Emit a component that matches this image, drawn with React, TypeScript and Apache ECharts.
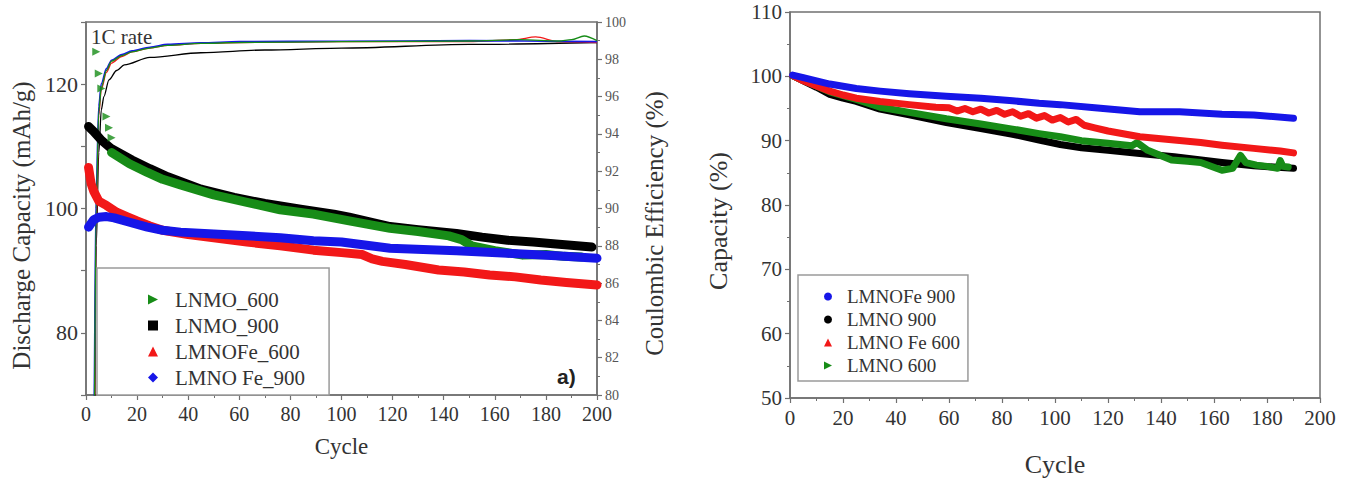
import React, { useEffect, useRef } from "react";
import * as echarts from "echarts";

// ---------- Left chart (a): discharge capacity vs cycle ----------
const cycleTicks = [0, 20, 40, 60, 80, 100, 120, 140, 160, 180, 200];
const capLabelValues = [80, 100, 120];

const lnmo900Cycles = [1, 3, 6, 10, 18, 25, 32, 45, 58, 70, 84, 97, 103, 119, 130, 145, 155, 165, 175, 184, 198];
const lnmo900Cap = [113.2, 112.4, 111.0, 109.6, 107.8, 106.4, 105.1, 103.1, 101.8, 100.8, 99.9, 99.1, 98.6, 97.1, 96.6, 96.0, 95.4, 94.9, 94.6, 94.3, 93.8];

const lnmo600Cycles = [10, 17, 24, 30, 37, 50, 63, 76, 89, 103, 119, 130, 142, 147, 151, 160, 171, 180, 187, 194];
const lnmo600Cap = [109.0, 107.2, 105.8, 104.7, 103.8, 102.2, 101.0, 99.8, 99.1, 98.0, 96.8, 96.3, 95.6, 95.0, 94.0, 93.2, 92.5, 92.6, 92.3, 92.2];
const lnmo600EarlyCycles = [4, 5, 6, 8, 9, 10];
const lnmo600EarlyCap = [125.2, 121.7, 119.3, 114.8, 113.0, 111.4];

const lmnoFe600Cycles = [1, 2, 3, 5, 8, 12, 16, 20, 25, 30, 40, 50, 63, 76, 89, 100, 108, 112, 116, 125, 138, 148, 158, 168, 178, 188, 200];
const lmnoFe600Cap = [106.6, 104.0, 102.8, 101.2, 100.5, 99.4, 98.7, 98.0, 97.2, 96.5, 95.8, 95.3, 94.6, 94.0, 93.3, 92.9, 92.6, 91.9, 91.5, 91.0, 90.1, 89.8, 89.3, 89.0, 88.5, 88.1, 87.7];

const lmnoFe900Cycles = [1, 3, 5, 8, 11, 16, 24, 30, 37, 50, 63, 76, 89, 100, 119, 145, 165, 184, 200];
const lmnoFe900Cap = [97.0, 98.2, 98.6, 98.7, 98.5, 97.9, 97.0, 96.5, 96.2, 95.9, 95.6, 95.3, 94.8, 94.6, 93.6, 93.2, 92.8, 92.4, 92.0];

// Coulombic efficiency (%), right axis of chart (a)
const ceUpperCycles = [1, 2, 3, 4, 5, 6, 8, 10, 14, 18, 25, 32, 45, 60, 100, 150, 200];
const ceUpper = [30, 60, 78, 91, 95.5, 96.7, 97.5, 97.95, 98.25, 98.45, 98.65, 98.8, 98.88, 98.95, 98.97, 99.0, 98.95];
const ceRedCycles = [1, 2, 3, 4, 5, 6, 8, 10, 14, 18, 25, 32, 45, 60, 100, 150, 168, 176, 185, 200];
const ceRed = [30, 55, 75, 89, 95.0, 96.4, 97.3, 97.8, 98.15, 98.4, 98.6, 98.75, 98.85, 98.9, 98.95, 98.95, 99.05, 99.2, 98.95, 98.9];
const ceGreenCycles = [1, 2, 3, 4, 5, 6, 8, 10, 14, 18, 25, 32, 45, 60, 100, 150, 170, 185, 190, 195, 200];
const ceGreen = [30, 58, 76, 90, 95.2, 96.5, 97.4, 97.9, 98.2, 98.4, 98.6, 98.75, 98.85, 98.9, 98.95, 98.98, 99.05, 98.98, 99.05, 99.25, 99.0];
const ceLowerCycles = [1, 2, 3, 4, 5, 6, 7, 9, 12, 15, 25, 45, 70, 100, 150, 200];
const ceLower = [30, 52, 72, 88, 93.0, 95.3, 96.0, 96.9, 97.4, 97.7, 98.1, 98.35, 98.5, 98.6, 98.8, 98.9];

// ---------- Right chart: capacity retention (%) ----------
const retTicks = [50, 60, 70, 80, 90, 100, 110];

const retFe900Cycles = [1, 5, 10, 15, 25, 34, 45, 59, 72, 84, 94, 102, 115, 132, 147, 163, 175, 190];
const retFe900 = [100.2, 99.8, 99.3, 98.8, 98.1, 97.7, 97.3, 96.9, 96.6, 96.2, 95.8, 95.6, 95.1, 94.5, 94.5, 94.1, 94.0, 93.5];

const ret900Cycles = [1, 5, 10, 15, 20, 25, 34, 45, 59, 72, 84, 94, 102, 110, 120, 132, 145, 163, 175, 190];
const ret900 = [100.1, 99.3, 98.3, 97.2, 96.6, 96.1, 94.9, 94.0, 92.8, 91.9, 91.0, 90.1, 89.4, 88.9, 88.5, 88.0, 87.5, 86.6, 86.1, 85.7];

const retFe600Cycles = [1, 5, 10, 15, 20, 25, 34, 45, 55, 60, 63, 66, 69, 72, 75, 78, 81, 84, 87, 90, 93, 96, 99, 102, 105, 108, 111, 115, 120, 132, 145, 155, 163, 175, 185, 190];
const retFe600 = [100.1, 99.3, 98.5, 97.7, 97.1, 96.6, 96.1, 95.6, 95.2, 95.1, 94.6, 95.0, 94.5, 94.9, 94.3, 94.7, 94.1, 94.5, 93.8, 94.2, 93.5, 93.9, 93.2, 93.6, 92.9, 93.3, 92.4, 92.0, 91.5, 90.6, 90.1, 89.7, 89.3, 88.8, 88.4, 88.1];

const ret600Cycles = [1, 5, 10, 15, 20, 25, 34, 45, 59, 72, 84, 94, 102, 110, 120, 129, 131, 135, 144, 150, 155, 163, 167, 170, 172, 176, 180, 184, 185, 186, 188];
const ret600 = [100.1, 99.4, 98.5, 97.6, 97.0, 96.4, 95.2, 94.4, 93.4, 92.6, 91.8, 91.1, 90.6, 90.0, 89.6, 89.2, 89.7, 88.5, 87.0, 86.8, 86.6, 85.4, 85.7, 87.7, 86.6, 86.2, 86.0, 85.7, 86.9, 86.0, 85.9];

const pts = (xs: number[], ys: number[]) => xs.map((x, i) => [x, ys[i]]);

const GREEN = "#178c17";
const BLACK = "#000000";
const RED = "#f21818";
const BLUE = "#1616e8";
const AXIS = "#707070";
const TXT = "#333333";
const SERIF = "'Liberation Serif', 'Times New Roman', serif";
const TRI_RIGHT = "path://M0,0L10,5L0,10Z";

const baseAxis = {
  axisLine: { show: true, onZero: false, lineStyle: { color: AXIS, width: 1.5 } },
  axisTick: { show: true, inside: false, length: 5, lineStyle: { color: AXIS, width: 1.2 } },
  minorTick: { show: true, splitNumber: 2, length: 3, lineStyle: { color: AXIS, width: 1 } },
  splitLine: { show: false },
  minorSplitLine: { show: false },
};

const bandLine = (name: string, color: string, data: number[][], xi: number, yi: number, width: number) => ({
  name,
  type: "line",
  xAxisIndex: xi,
  yAxisIndex: yi,
  data,
  color,
  showSymbol: false,
  symbol: "none",
  smooth: false,
  lineStyle: { color, width, cap: "round", join: "round" },
  itemStyle: { color },
  z: 3,
});

const ceLine = (name: string, color: string, data: number[][], width: number) => ({
  name,
  type: "line",
  xAxisIndex: 0,
  yAxisIndex: 1,
  data,
  showSymbol: false,
  symbol: "none",
  smooth: 0.3,
  smoothMonotone: "x",
  lineStyle: { color, width },
  itemStyle: { color },
  z: 2,
});

const label = (size: number, color = TXT, margin = 8) => ({
  fontFamily: SERIF,
  fontSize: size,
  color,
  margin,
});

export default function App() {
  const ref = useRef<HTMLDivElement>(null);
  useEffect(() => {
    if (!ref.current) return;
    const chart = echarts.init(ref.current, undefined, { renderer: "svg" });
    const option: any = {
      animation: false,
      backgroundColor: "#ffffff",
      textStyle: { fontFamily: SERIF },
      grid: [
        { left: 86, top: 22, width: 511, height: 373, show: true, borderColor: AXIS, borderWidth: 1.5, backgroundColor: "transparent" },
        { left: 790, top: 12, width: 530, height: 388, show: true, borderColor: AXIS, borderWidth: 1.5, backgroundColor: "transparent" },
      ],
      xAxis: [
        {
          ...baseAxis,
          type: "value",
          gridIndex: 0,
          min: cycleTicks[0],
          max: cycleTicks[cycleTicks.length - 1],
          interval: 20,
          axisLabel: label(20, TXT, 9),
          name: "Cycle",
          nameLocation: "middle",
          nameGap: 40,
          nameTextStyle: { fontFamily: SERIF, fontSize: 23, color: TXT },
        },
        {
          ...baseAxis,
          type: "value",
          gridIndex: 1,
          min: cycleTicks[0],
          max: cycleTicks[cycleTicks.length - 1],
          interval: 20,
          axisLabel: label(21, TXT, 9),
          name: "Cycle",
          nameLocation: "middle",
          nameGap: 53,
          nameTextStyle: { fontFamily: SERIF, fontSize: 26, color: TXT },
        },
      ],
      yAxis: [
        {
          ...baseAxis,
          minorTick: { show: false },
          type: "value",
          gridIndex: 0,
          min: 70,
          max: 130,
          interval: 10,
          axisLabel: {
            ...label(22, TXT, 8),
            formatter: (v: number) => (capLabelValues.includes(v) ? String(v) : ""),
          },
          name: "Discharge Capacity (mAh/g)",
          nameLocation: "middle",
          nameGap: 52,
          nameRotate: 90,
          nameTextStyle: { fontFamily: SERIF, fontSize: 25, color: TXT, padding: [0, 34, 0, 0] },
        },
        {
          ...baseAxis,
          type: "value",
          gridIndex: 0,
          position: "right",
          min: 80,
          max: 100,
          interval: 2,
          axisLabel: label(14, "#555", 8),
          name: "Coulombic Efficiency (%)",
          nameLocation: "middle",
          nameGap: 45,
          nameRotate: 90,
          nameTextStyle: { fontFamily: SERIF, fontSize: 25, color: TXT, padding: [0, 30, 0, 0] },
        },
        {
          ...baseAxis,
          type: "value",
          gridIndex: 1,
          min: retTicks[0],
          max: retTicks[retTicks.length - 1],
          interval: 10,
          axisLabel: label(21, TXT, 8),
          name: "Capacity (%)",
          nameLocation: "middle",
          nameGap: 59,
          nameRotate: 90,
          nameTextStyle: { fontFamily: SERIF, fontSize: 26, color: TXT, padding: [0, 32, 0, 0] },
        },
      ],
      legend: [
        {
          orient: "vertical",
          left: 97,
          top: 268,
          padding: [21, 24, 7, 51],
          itemGap: 5,
          itemWidth: 10,
          itemHeight: 10,
          borderColor: "#9a9a9a",
          borderWidth: 1.5,
          backgroundColor: "#ffffff",
          textStyle: { fontFamily: SERIF, fontSize: 21, color: TXT, padding: [0, 0, 0, 12] },
          data: [
            { name: "LNMO_600", icon: TRI_RIGHT },
            { name: "LNMO_900", icon: "rect" },
            { name: "LMNOFe_600", icon: "triangle" },
            { name: "LMNO Fe_900", icon: "diamond" },
          ],
        },
        {
          orient: "vertical",
          left: 798,
          top: 275,
          padding: [12, 8, 6, 26],
          itemGap: 4,
          itemWidth: 8,
          itemHeight: 8,
          borderColor: "#9a9a9a",
          borderWidth: 1.5,
          backgroundColor: "#ffffff",
          textStyle: { fontFamily: SERIF, fontSize: 19, color: TXT, padding: [0, 0, 0, 10] },
          data: [
            { name: "LMNOFe 900", icon: "circle" },
            { name: "LMNO 900", icon: "circle" },
            { name: "LMNO Fe 600", icon: "triangle" },
            { name: "LMNO 600", icon: TRI_RIGHT },
          ],
        },
      ],
      graphic: [
        {
          type: "text",
          left: 91,
          top: 26,
          style: { text: "1C rate", fontFamily: SERIF, fontSize: 21, fill: TXT },
          z: 10,
        },
        {
          type: "text",
          left: 557,
          top: 366,
          style: { text: "a)", fontFamily: "'Liberation Sans', Arial, sans-serif", fontWeight: "bold", fontSize: 21, fill: "#222" },
          z: 10,
        },
      ],
      series: [
        ceLine("CE LNMO_900", BLACK, pts(ceLowerCycles, ceLower), 1.3),
        ceLine("CE LMNOFe_600", RED, pts(ceRedCycles, ceRed), 1.3),
        ceLine("CE LMNO Fe_900", BLUE, pts(ceUpperCycles, ceUpper), 1.6),
        ceLine("CE LNMO_600", GREEN, pts(ceGreenCycles, ceGreen), 1.3),
        bandLine("LNMO_900", BLACK, pts(lnmo900Cycles, lnmo900Cap), 0, 0, 9),
        bandLine("LNMO_600", GREEN, pts(lnmo600Cycles, lnmo600Cap), 0, 0, 9),
        bandLine("LMNOFe_600", RED, pts(lmnoFe600Cycles, lmnoFe600Cap), 0, 0, 9),
        bandLine("LMNO Fe_900", BLUE, pts(lmnoFe900Cycles, lmnoFe900Cap), 0, 0, 9),
        {
          name: "LNMO_600",
          type: "scatter",
          xAxisIndex: 0,
          yAxisIndex: 0,
          data: pts(lnmo600EarlyCycles, lnmo600EarlyCap),
          symbol: TRI_RIGHT,
          symbolSize: 8,
          itemStyle: { color: GREEN },
          z: 4,
        },
        bandLine("LMNO 900", BLACK, pts(ret900Cycles, ret900), 1, 2, 7),
        bandLine("LMNO 600", GREEN, pts(ret600Cycles, ret600), 1, 2, 7),
        bandLine("LMNO Fe 600", RED, pts(retFe600Cycles, retFe600), 1, 2, 7),
        bandLine("LMNOFe 900", BLUE, pts(retFe900Cycles, retFe900), 1, 2, 7),
      ],
    };
    chart.setOption(option);
    return () => chart.dispose();
  }, []);
  return (
    <div
      ref={ref}
      style={{ position: "absolute", left: 0, top: 0, width: 1354, height: 482, background: "#fff" }}
    />
  );
}
